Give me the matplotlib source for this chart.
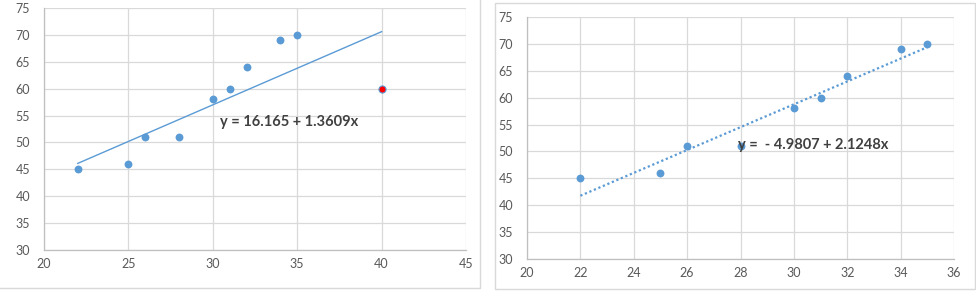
import matplotlib.pyplot as plt
import matplotlib.patches as patches
import numpy as np

# data
x_all = [22, 25, 26, 28, 30, 31, 32, 34, 35, 40]
y_all = [45, 46, 51, 51, 58, 60, 64, 69, 70, 60]
outlier = 9  # index of the red point (only in the left chart)

label_left = "y = 16.165 + 1.3609x"
label_right = "y =  - 4.9807 + 2.1248x"

yticks = [30, 35, 40, 45, 50, 55, 60, 65, 70, 75]
xticks_left = [20, 25, 30, 35, 40, 45]
xticks_right = [20, 22, 24, 26, 28, 30, 32, 34, 36]

blue = '#5B9BD5'
grid = '#D9D9D9'
txt = '#595959'

plt.rcParams['font.family'] = ['Lato', 'DejaVu Sans']

fig = plt.figure(figsize=(9.76, 2.93), dpi=100)

# chart borders (pixel coords -> figure fraction)
W, H = 976, 293
def box(x0, y0, x1, y1):
    fig.patches.append(patches.Rectangle((x0 / W, 1 - y1 / H), (x1 - x0) / W, (y1 - y0) / H,
                                         transform=fig.transFigure, fill=False,
                                         edgecolor='#D9D9D9', lw=1))
box(-2, -2, 480, 288)
box(495, 3, 975, 289)

def style(ax, xt):
    ax.set_ylim(30, 75)
    ax.set_xlim(xt[0], xt[-1])
    ax.set_yticks(yticks)
    ax.set_xticks(xt)
    ax.grid(True, color=grid, lw=0.9)
    ax.set_axisbelow(True)
    for s in ['top', 'right']:
        ax.spines[s].set_visible(False)
    for s in ['left', 'bottom']:
        ax.spines[s].set_color('#BFBFBF')
        ax.spines[s].set_linewidth(0.9)
    ax.tick_params(length=0, colors=txt, labelsize=9, pad=6)
    ax.tick_params(axis='y', pad=10)

# left chart: all points, trendline fit on all
ax1 = fig.add_axes([44 / W, 1 - 250 / H, 422 / W, 242 / H])
style(ax1, xticks_left)
xa = np.array(x_all); ya = np.array(y_all)
b1, a1 = np.polyfit(xa, ya, 1)
xl = np.array([min(x_all), max(x_all)])
ax1.plot(xl, a1 + b1 * xl, color=blue, lw=1, zorder=2)
mask = np.arange(len(xa)) != outlier
ax1.scatter(xa[mask], ya[mask], s=32, color=blue, zorder=3, linewidths=0)
ax1.scatter(xa[outlier], ya[outlier], s=26, color='red', edgecolors=blue, linewidths=0.8, zorder=3)
ax1.text(30.4, 53.8, label_left, fontsize=10.5, fontweight='bold', color='#404040', va='center', ha='left')

# right chart: without the outlier, dotted trendline
ax2 = fig.add_axes([527 / W, 1 - 259 / H, 427 / W, 242 / H])
style(ax2, xticks_right)
xr = xa[mask]; yr = ya[mask]
b2, a2 = np.polyfit(xr, yr, 1)
xl2 = np.array([xr.min(), xr.max()])
ax2.plot(xl2, a2 + b2 * xl2, color=blue, lw=1.6, ls=(0, (1, 1.2)), zorder=2)
ax2.scatter(xr, yr, s=32, color=blue, zorder=3, linewidths=0)
ax2.text(27.9, 51.2, label_right, fontsize=10.5, fontweight='bold', color='#404040', va='center', ha='left', zorder=4)

fig.savefig('out.png', dpi=100)
